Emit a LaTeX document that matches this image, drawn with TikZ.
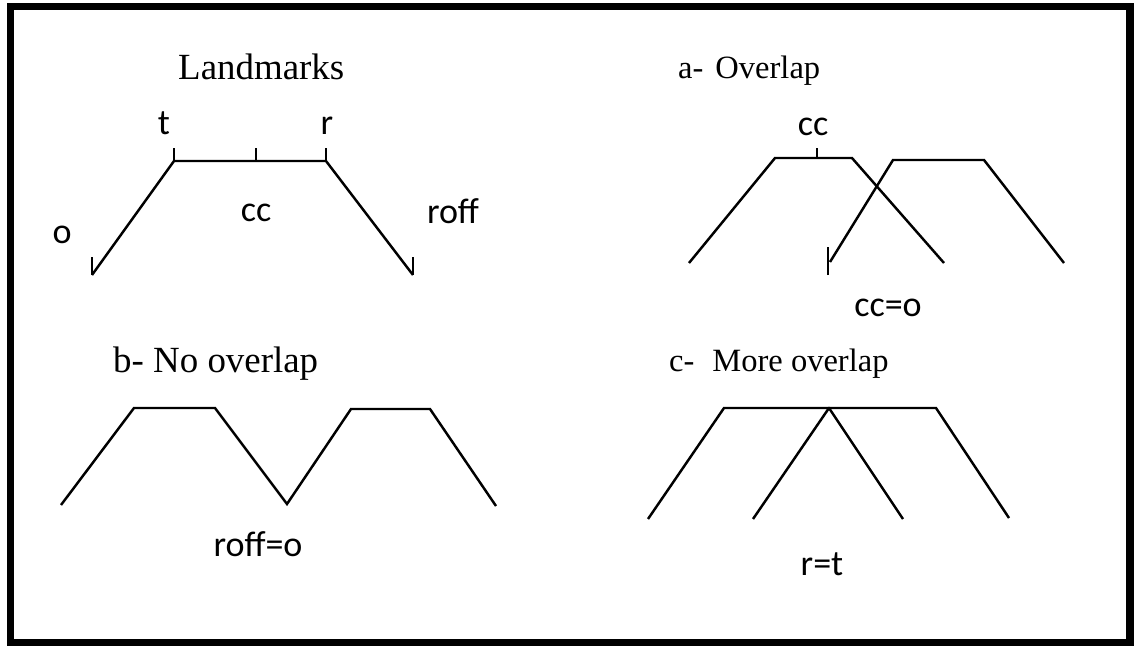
\documentclass[tikz,border=0pt]{standalone}
\usepackage{fontspec}
\setmainfont{Liberation Serif}
\newfontfamily\lblfont{Carlito}
\begin{document}
\begin{tikzpicture}[line width=1.4pt,
  bigtitle/.style={anchor=base west, inner sep=0pt, font=\fontsize{21}{24}\selectfont},
  smalltitle/.style={anchor=base west, inner sep=0pt, font=\fontsize{18.5}{22}\selectfont},
  lbl/.style={anchor=base, inner sep=0pt, font=\lblfont\fontsize{20.5}{23}\selectfont}]
  \useasboundingbox (0,0) rectangle (22.72,12.92);
  \draw[line width=4.25pt] (0.21,0.07) rectangle (22.6,12.79);

  \node[bigtitle] (landmarks) at (3.54,11.32) {Landmarks};
  \draw (1.84,7.42) -- (3.48,9.70) -- (6.52,9.70) -- (8.26,7.42);
  \foreach \x in {3.48,5.12,6.52}
    \draw (\x,9.70) -- ++(0,0.26);
  \draw (1.84,7.42) -- ++(0,0.36);
  \draw (8.26,7.42) -- ++(0,0.36);
  \node[lbl] (t) at (3.28,10.24) {t};
  \node[lbl] (r) at (6.54,10.24) {r};
  \node[lbl] (cc) at (5.12,8.50) {cc};
  \node[lbl] (o) at (1.24,8.06) {o};
  \node[lbl] (roff) at (9.06,8.46) {roff};

  \node[smalltitle] (overlap) at (13.54,11.34) {a-\hspace{0.24cm}Overlap};
  \draw (13.78,7.66) -- (15.50,9.76) -- (17.04,9.76) -- (18.88,7.66);
  \draw (16.60,7.68) -- (17.86,9.72) -- (19.68,9.72) -- (21.28,7.66);
  \draw (16.34,9.76) -- ++(0,0.2);
  \draw (16.56,7.42) -- ++(0,0.56);
  \node[lbl] (cctop) at (16.26,10.22) {cc};
  \node[lbl] (cceq) at (17.76,6.60) {cc=o};

  \node[bigtitle] (nooverlap) at (2.24,5.48) {b- No overlap};
  \draw (1.22,2.82) -- (2.68,4.76) -- (4.30,4.76) -- (5.74,2.84)
    -- (7.02,4.74) -- (8.60,4.74) -- (9.92,2.80);
  \node[lbl] (roffeq) at (5.16,1.80) {roff=o};

  \node[smalltitle] (moreoverlap) at (13.36,5.50) {c-\hspace{0.36cm}More overlap};
  \draw (12.96,2.54) -- (14.48,4.76) -- (16.58,4.76) -- (18.06,2.54);
  \draw (15.06,2.54) -- (16.58,4.76) -- (18.72,4.76) -- (20.18,2.56);
  \node[lbl] (req) at (16.44,1.42) {r=t};
\end{tikzpicture}
\end{document}
